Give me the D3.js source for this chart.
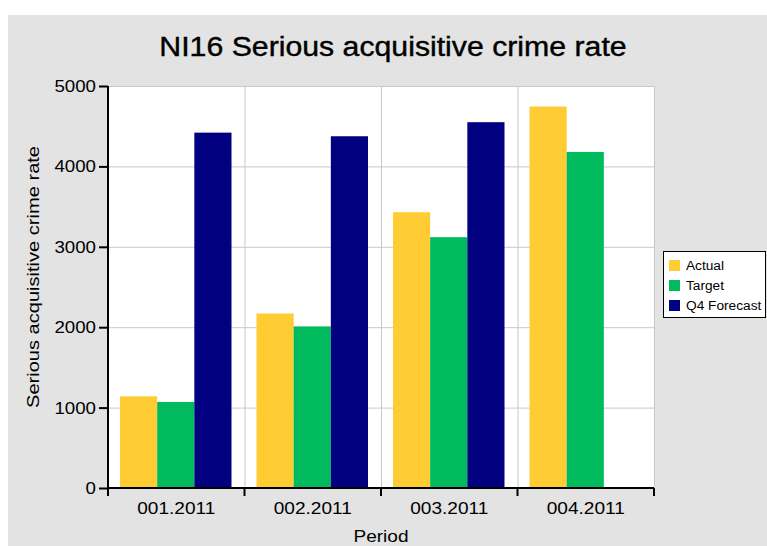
<!DOCTYPE html>
<html>
<head>
<meta charset="utf-8">
<script src="https://cdn.jsdelivr.net/npm/d3@7"></script>
<style>
  body { margin: 0; background: #fff; }
  svg { display: block; font-family: "Liberation Sans", Arial, sans-serif; }
</style>
</head>
<body>
<svg id="chart" width="767" height="546"></svg>
<script>
const periods = ["001.2011", "002.2011", "003.2011", "004.2011"];
const seriesNames = ["Actual", "Target", "Q4 Forecast"];
const actual = [1140, 2170, 3430, 4745];
const target = [1070, 2010, 3120, 4180];
const forecast = [4420, 4375, 4550, null];
const yTicks = [0, 1000, 2000, 3000, 4000, 5000];
const colors = ["#ffcc33", "#00bb5e", "#000080"];

const svg = d3.select("#chart");
const margin = { left: 108, top: 86, right: 654, bottom: 488 };

// the original text is drawn a little wider than the font's natural width
function stretch(sel, k) {
  sel.each(function () {
    const w = this.getComputedTextLength();
    d3.select(this).attr("textLength", w * k).attr("lengthAdjust", "spacingAndGlyphs");
  });
}

// grey panel
svg.append("rect")
  .attr("x", 8).attr("y", 15)
  .attr("width", 767 - 8).attr("height", 546 - 15)
  .attr("fill", "#e3e3e3");

svg.append("text")
  .attr("x", 393).attr("y", 56)
  .attr("text-anchor", "middle")
  .attr("font-size", 27)
  .attr("fill", "#000")
  .attr("stroke", "#000").attr("stroke-width", 0.4)
  .text("NI16 Serious acquisitive crime rate")
  .call(stretch, 1.12);

const x = d3.scaleBand().domain(periods).range([margin.left, margin.right]);
const x1 = d3.scaleBand().domain(seriesNames).range([12, x.bandwidth() - 13]);
const y = d3.scaleLinear().domain([0, 5000]).range([margin.bottom, margin.top]);

// plot background
svg.append("rect")
  .attr("x", margin.left).attr("y", margin.top)
  .attr("width", margin.right - margin.left).attr("height", margin.bottom - margin.top)
  .attr("fill", "#fff");

// horizontal grid
svg.append("g")
  .selectAll("line")
  .data(yTicks.slice(1))
  .join("line")
  .attr("x1", margin.left).attr("x2", margin.right)
  .attr("y1", d => y(d) + 0.5).attr("y2", d => y(d) + 0.5)
  .attr("stroke", "#c8c8c8");

// vertical grid at band edges
svg.append("g")
  .selectAll("line")
  .data(periods.slice(1).concat(["end"]))
  .join("line")
  .attr("x1", d => (d === "end" ? margin.right : x(d)) + 0.5)
  .attr("x2", d => (d === "end" ? margin.right : x(d)) + 0.5)
  .attr("y1", margin.top).attr("y2", margin.bottom)
  .attr("stroke", "#c8c8c8");

const rows = periods.map((p, i) => ({ period: p, values: [actual[i], target[i], forecast[i]] }));

svg.append("g")
  .selectAll("g")
  .data(rows)
  .join("g")
  .attr("transform", d => `translate(${x(d.period)},0)`)
  .selectAll("rect")
  .data(d => d.values.map((v, k) => ({ name: seriesNames[k], value: v, k: k })).filter(d => d.value != null))
  .join("rect")
  .attr("x", d => x1(d.name))
  .attr("width", x1.bandwidth())
  .attr("y", d => y(d.value))
  .attr("height", d => y(0) - y(d.value))
  .attr("fill", d => colors[d.k]);

// y axis
const yAxis = svg.append("g")
  .attr("transform", `translate(${margin.left},0)`)
  .call(d3.axisLeft(y).tickValues(yTicks).tickSize(9).tickPadding(3).tickFormat(d3.format("d")));
yAxis.select(".domain").attr("stroke", "#000").attr("stroke-width", 2)
  .attr("d", `M0,${margin.top}V${margin.bottom}`);
yAxis.selectAll(".tick line").attr("stroke", "#000").attr("stroke-width", 2);
yAxis.selectAll(".tick text").attr("font-size", 17).attr("fill", "#000")
  .attr("font-family", "Liberation Sans, Arial, sans-serif")
  .call(stretch, 1.1);

// x axis
const xAxis = svg.append("g")
  .attr("transform", `translate(0,${margin.bottom})`)
  .call(d3.axisBottom(x).tickSize(0).tickPadding(14));
xAxis.select(".domain").attr("stroke", "#000").attr("stroke-width", 2)
  .attr("d", `M${margin.left},0H${margin.right}`);
xAxis.selectAll(".tick text").attr("font-size", 17).attr("fill", "#000")
  .attr("font-family", "Liberation Sans, Arial, sans-serif")
  .call(stretch, 1.12);
xAxis.append("g")
  .selectAll("line")
  .data(periods.concat(["end"]))
  .join("line")
  .attr("x1", d => d === "end" ? margin.right : x(d))
  .attr("x2", d => d === "end" ? margin.right : x(d))
  .attr("y1", 0).attr("y2", 8)
  .attr("stroke", "#000").attr("stroke-width", 2);

svg.append("text")
  .attr("x", 381).attr("y", 542)
  .attr("text-anchor", "middle")
  .attr("font-size", 17)
  .text("Period")
  .call(stretch, 1.12);

svg.append("text")
  .attr("transform", "translate(39,277) rotate(-90)")
  .attr("text-anchor", "middle")
  .attr("font-size", 17)
  .text("Serious acquisitive crime rate")
  .call(stretch, 1.18);

// legend
const legend = svg.append("g").attr("transform", "translate(663,251)");
legend.append("rect")
  .attr("x", 0.5).attr("y", 0.5)
  .attr("width", 102).attr("height", 66)
  .attr("fill", "#fff").attr("stroke", "#000");
const item = legend.selectAll("g.item")
  .data(seriesNames)
  .join("g")
  .attr("class", "item")
  .attr("transform", (d, i) => `translate(6,${9 + i * 20})`);
item.append("rect")
  .attr("width", 11).attr("height", 11)
  .attr("fill", (d, i) => colors[i]);
item.append("text")
  .attr("x", 17).attr("y", 10)
  .attr("font-size", 12)
  .text(d => d)
  .call(stretch, 1.14);
</script>
</body>
</html>
